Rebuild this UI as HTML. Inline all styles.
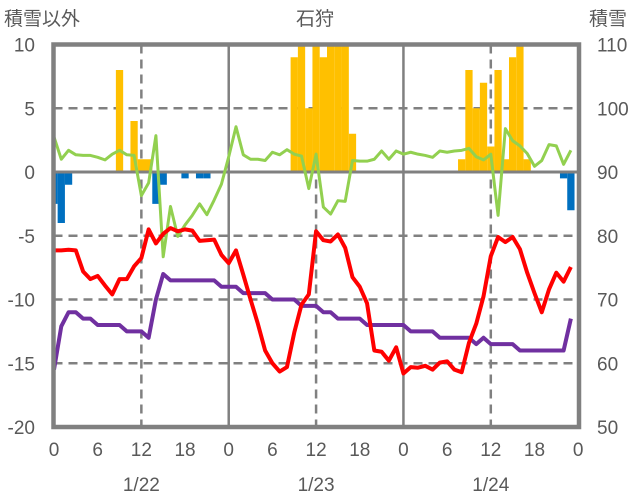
<!DOCTYPE html>
<html><head><meta charset="utf-8">
<style>
html,body{margin:0;padding:0;background:#fff;}
svg{display:block;font-family:"Liberation Sans","Noto Sans CJK JP",sans-serif;}
</style></head>
<body>
<svg id="chart" width="636" height="501" viewBox="0 0 636 501" xmlns="http://www.w3.org/2000/svg">
<text x="4" y="25" font-size="19" fill="#595959">積雪以外</text>
<text x="315" y="25" font-size="19" fill="#595959" text-anchor="middle">石狩</text>
<text x="589" y="25" font-size="19" fill="#595959">積雪</text>
<g id="grid"></g>
<g id="bars"></g>
<g id="lines"></g>
<g id="axes"></g>
</svg>
<script>
const hours = [0,1,2,3,4,5,6,7,8,9,10,11,12,13,14,15,16,17,18,19,20,21,22,23,24,25,26,27,28,29,30,31,32,33,34,35,36,37,38,39,40,41,42,43,44,45,46,47,48,49,50,51,52,53,54,55,56,57,58,59,60,61,62,63,64,65,66,67,68,69,70,71];
const precipPos = [0,0,0,0,0,0,0,0,0,8,0,4,1,1,0,0,0,0,0,0,0,0,0,0, 0,0,0,0,0,0,0,0,0,9,10,5,10,9,10,10,10,3,0,0,0,0,0,0, 0,0,0,0,0,0,0,0,1,8,5,7,2,8,1,9,10,1,0,0,0,0,0,0];
const precipNeg = [-2.5,-4,-1,0,0,0,0,0,0,0,0,0,0,0,-2.5,-1,0,0,-0.5,0,-0.5,-0.5,0,0, 0,0,0,0,0,0,0,0,0,0,0,0,0,0,0,0,0,0,0,0,0,0,0,0, 0,0,0,0,0,0,0,0,0,0,0,0,0,0,0,0,0,0,0,0,0,0,-0.5,-3];
const snowDepth = [95.5,92,93.4,92.7,92.6,92.6,92.3,91.9,92.8,93.4,92.7,92.6,86.3,88.3,95.7,76.7,84.6,79.9,81.7,83.2,85,83.3,85.6,88.1,
92.4,97.1,92.7,92,92,91.8,93.1,92.7,93.5,92.8,92.5,87.4,92.8,84.5,83.4,85.5,85.4,91.8,91.7,91.7,92,93.3,92,93.3,
92.8,93.1,92.8,92.6,92.3,93.3,93.1,93.3,93.4,93.7,92.4,91.9,92.8,83.2,96.8,94.9,94.1,92.9,90.9,91.8,94.3,94.1,91.2,93.4];
const tempA = [-6.15,-6.15,-6.1,-6.15,-7.8,-8.4,-8.15,-8.9,-9.6,-8.4,-8.4,-7.4,-6.75,-4.5,-5.6,-4.85,-4.4,-4.65,-4.5,-4.6,-5.4,-5.35,-5.3,-6.5,
-7.15,-6.15,-8.05,-10,-11.9,-14,-15,-15.65,-15.3,-12.6,-10.4,-9.6,-4.65,-5.35,-5.45,-4.9,-5.95,-8.25,-9,-10.3,-14,-14.1,-14.8,-13.75,
-15.8,-15.3,-15.35,-15.2,-15.5,-14.95,-14.85,-15.5,-15.7,-13.4,-11.9,-9.75,-6.6,-5.1,-5.5,-5.1,-6.05,-7.9,-9.5,-11,-9.2,-7.9,-8.6,-7.45];
const tempB = [-15.5,-12.1,-11,-11,-11.5,-11.5,-12,-12,-12,-12,-12.5,-12.5,-12.5,-13,-10,-8,-8.5,-8.5,-8.5,-8.5,-8.5,-8.5,-8.5,-9,
-9,-9,-9.5,-9.5,-9.5,-9.5,-10,-10,-10,-10,-10.5,-10.5,-10.5,-11,-11,-11.5,-11.5,-11.5,-11.5,-12,-12,-12,-12,-12,
-12,-12.5,-12.5,-12.5,-12.5,-13,-13,-13,-13,-13,-13.5,-13,-13.5,-13.5,-13.5,-13.5,-14,-14,-14,-14,-14,-14,-14,-11.5];
const leftTicks = [10,5,0,-5,-10,-15,-20];
const rightTicks = [110,100,90,80,70,60,50];
const xTickHours = [0,6,12,18,24,30,36,42,48,54,60,66,72];
const xTickLabels = ["0","6","12","18","0","6","12","18","0","6","12","18","0"];
const dayLabels = ["1/22","1/23","1/24"];

const NS="http://www.w3.org/2000/svg";
const X0=54, HW=7.28, Y0=44.5, Y1=427, LMIN=-20, LMAX=10, RMIN=50, RMAX=110;
const PL=53.5, PR=579;
function xs(h){return X0+h*HW;}
function yl(v){return Y0+(LMAX-v)/(LMAX-LMIN)*(Y1-Y0);}
function yr(v){return Y0+(RMAX-v)/(RMAX-RMIN)*(Y1-Y0);}
function mk(tag,attrs,parent){const e=document.createElementNS(NS,tag);for(const k in attrs)e.setAttribute(k,attrs[k]);parent.appendChild(e);return e;}
const grid=document.getElementById('grid'),bars=document.getElementById('bars'),lines=document.getElementById('lines'),axes=document.getElementById('axes');

leftTicks.forEach(v=>{
  if(v===10||v===-20||v===0)return;
  const g=mk('line',{x1:PL,x2:PR,y1:yl(v),y2:yl(v),stroke:'#808080','stroke-width':2.5,'stroke-dasharray':'9,6'},grid);
  
  
});
[12,24,36,48,60].forEach(h=>{
  const solid=(h%24===0);
  const g=mk('line',{x1:xs(h),x2:xs(h),y1:Y0,y2:Y1,stroke:'#808080','stroke-width':solid?2.5:2.5,'stroke-dasharray':solid?'none':'9,6'},grid);
  
  
});

hours.forEach((h,i)=>{
  const x0=Math.max(PL,xs(h)-HW/2), x1=Math.min(PR,xs(h)+HW/2);
  if(precipPos[i]>0){
    const r=mk('rect',{x:x0,y:yl(precipPos[i]),width:x1-x0,height:yl(0)-yl(precipPos[i]),fill:'#FFC000'},bars);
    
    
  }
  if(precipNeg[i]<0){
    const r=mk('rect',{x:x0,y:yl(0),width:x1-x0,height:yl(precipNeg[i])-yl(0),fill:'#0070C0'},bars);
    
    
  }
});
const zl=mk('line',{x1:PL,x2:PR,y1:yl(0),y2:yl(0),stroke:'#808080','stroke-width':3},bars);



function poly(vals,yf,color,w,name){
  const p=mk('polyline',{points:vals.map((v,i)=>xs(hours[i])+','+yf(v)).join(' '),fill:'none',stroke:color,'stroke-width':w,'stroke-linejoin':'round'},lines);
  
  
}
poly(snowDepth,yr,'#92D050',3,'snow-depth-line');
poly(tempB,yl,'#7030A0',4,'min-temp-line');
poly(tempA,yl,'#FF0000',4,'temp-line');

const fr=mk('rect',{x:PL,y:Y0,width:PR-PL,height:Y1-Y0,fill:'none',stroke:'#808080','stroke-width':4.5},axes);



leftTicks.forEach(v=>{
  const t=mk('text',{x:35,y:yl(v)+7,'font-size':19,fill:'#595959','text-anchor':'end'},axes);
  t.textContent=v;
  
  
});
rightTicks.forEach(v=>{
  const t=mk('text',{x:597,y:yr(v)+7,'font-size':19,fill:'#595959'},axes);
  t.textContent=v;
  
  
});
xTickHours.forEach((h,i)=>{
  const t=mk('text',{x:xs(h),y:456,'font-size':19,fill:'#595959','text-anchor':'middle'},axes);
  t.textContent=xTickLabels[i];
  
  
});
dayLabels.forEach((d,i)=>{
  const t=mk('text',{x:xs(12+24*i),y:491,'font-size':19,fill:'#595959','text-anchor':'middle'},axes);
  t.textContent=d;
  
  
});
</script>
</body></html>
